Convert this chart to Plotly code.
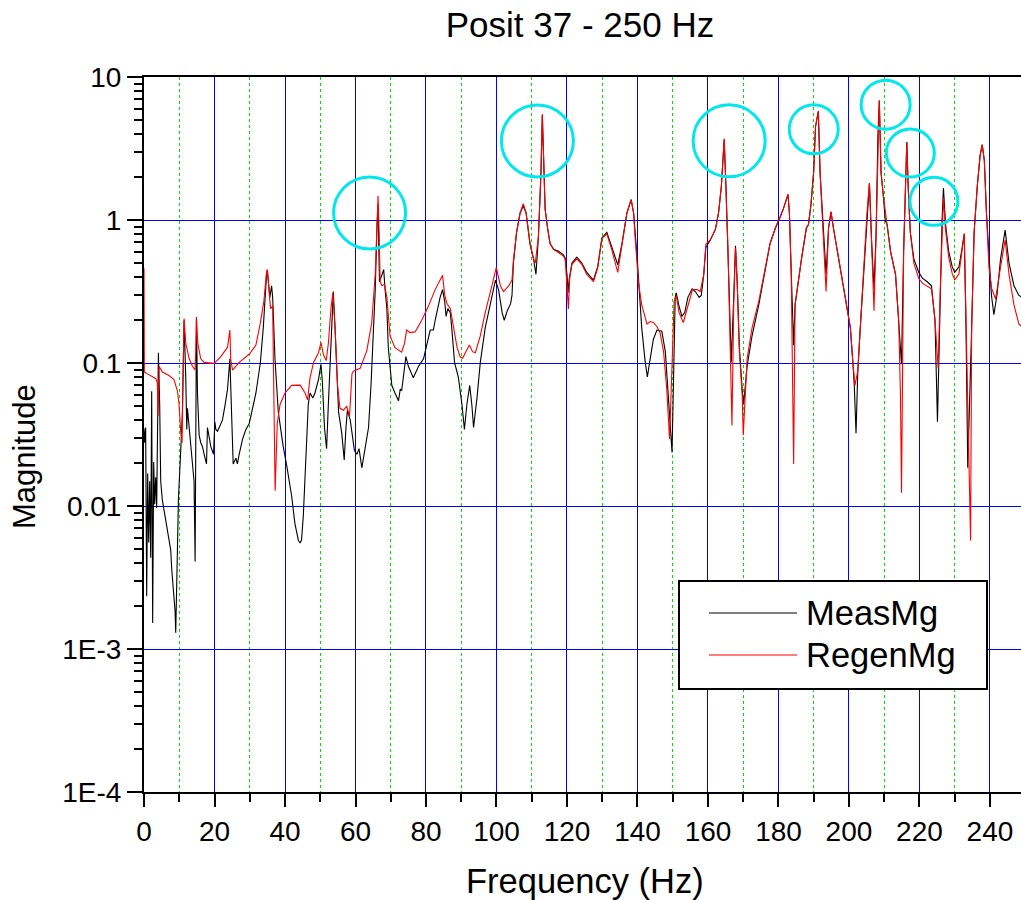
import math
import plotly.graph_objects as go

# ---------------- data ----------------
meas_freq = [0.0, 0.19, 0.47, 0.76, 1.04, 1.33, 1.61, 1.90, 2.18, 2.46, 2.75, 3.03, 3.32, 3.60, 3.89,
             4.08, 4.45, 4.74, 5.21, 5.69, 6.16, 6.64, 7.11, 7.58, 7.87, 8.25, 8.53, 8.82, 9.0, 9.19,
             9.48, 9.76, 10.14, 10.52, 10.9, 11.18, 11.37, 11.85, 12.13, 12.32, 12.8, 13.27, 13.74,
             14.2, 14.5, 14.69, 14.88, 15.17, 15.64, 16.11, 16.59, 17.06, 17.73, 18.0, 18.48, 18.96,
             19.72, 20.1, 20.38, 20.85, 21.33, 22.27, 23.03, 23.7, 24.36, 24.83, 25.3, 26.07, 26.5,
             27.0, 27.96, 28.9, 29.86, 30.33, 31.75, 33.0, 33.84, 34.8, 35.0, 35.7, 36.2, 36.5, 37.16,
             38.1, 39.5, 40.5, 41.9, 42.8, 43.8, 44.3, 44.7, 45.2, 46.0, 46.6, 47.1, 47.9, 48.5, 49.5,
             50.2, 50.6, 51.2, 51.8, 52.3, 52.99, 53.7, 54.2, 55.2, 56.1, 56.8, 57.3, 57.7, 58.5, 59.7,
             60.4, 61.0, 61.8, 62.7, 63.7, 64.4, 65.1, 65.6, 66.1, 66.4, 66.8, 67.5, 68.0, 68.4, 68.9,
             69.3, 70.3, 71.2, 72.2, 72.7, 73.1, 74.3, 75.0, 76.4, 77.9, 79.3, 80.7, 81.2, 82.1, 82.6,
             84.0, 84.7, 85.3, 85.7, 86.2, 86.9, 87.3, 88.1, 89.2, 90.2, 90.9, 91.6, 92.4, 93.0, 93.5,
             94.5, 95.4, 96.8, 98.2, 99.7, 100.6, 101.6, 102.2, 103.0, 104.0, 104.4, 104.8, 105.7,
             106.7, 107.6, 108.4, 109.5, 110.5, 111.2, 111.9, 112.6, 113.0, 113.4, 113.8, 114.5, 115.2,
             116.2, 117.6, 119.0, 119.5, 120.0, 120.3, 120.6, 121.4, 122.8, 124.2, 125.6, 127.5, 128.7,
             129.9, 131.3, 132.7, 134.4, 135.6, 137.0, 138.2, 138.9, 139.9, 140.3, 140.8, 141.2, 142.2,
             142.8, 143.6, 144.5, 145.5, 146.9, 147.9, 148.8, 149.3, 149.8, 150.3, 150.7, 151.0, 151.7,
             152.6, 153.4, 154.3, 155.5, 156.4, 157.5, 158.1, 158.8, 159.4, 160.7, 162.1, 163.0, 163.8,
             164.6, 165.1, 165.7, 166.3, 166.6, 167.3, 167.8, 168.3, 168.9, 169.7, 170.1, 171.1, 172.5,
             174.4, 175.5, 176.2, 177.6, 179.1, 180.5, 181.4, 182.7, 183.1, 183.6, 184.3, 184.7, 185.4,
             186.6, 187.9, 188.5, 189.2, 190.0, 190.5, 191.3, 191.8, 192.4, 193.0, 193.5, 194.2, 194.9,
             195.6, 197.1, 198.5, 199.4, 200.4, 201.1, 201.5, 202.0, 202.5, 203.2, 204.2, 205.1, 205.8,
             206.4, 207.1, 207.7, 208.2, 208.6, 209.1, 209.7, 210.3, 210.8, 211.8, 213.2, 214.1, 214.9,
             215.5, 216.0, 216.4, 216.8, 217.4, 218.4, 219.8, 220.9, 222.2, 223.4, 224.4, 225.1, 225.9,
             226.4, 226.8, 227.4, 228.3, 229.3, 230.0, 231.2, 232.1, 232.7, 233.2, 233.7, 234.8, 235.5,
             236.4, 237.2, 237.8, 238.4, 239.0, 239.7, 240.4, 241.1, 242.0, 243.0, 244.3, 245.4, 246.8,
             248.2, 249.0]
meas_mag = [0.035, 0.0277, 0.0354, 0.00234, 0.0169, 0.00556, 0.0149, 0.00435, 0.0635, 0.00152, 0.0203,
            0.0103, 0.0159, 0.0097, 0.0426, 0.118, 0.0513, 0.0149, 0.011, 0.0094, 0.0081, 0.0067, 0.00556,
            0.00492, 0.00361, 0.00266, 0.00207, 0.00183, 0.0013, 0.00319, 0.0049, 0.011, 0.0203, 0.0277,
            0.0453, 0.0893, 0.199, 0.0789, 0.0343, 0.0482, 0.0354, 0.0277, 0.0203, 0.0149, 0.00409, 0.0789,
            0.205, 0.0617, 0.0313, 0.0277, 0.026, 0.023, 0.0197, 0.0354, 0.0294, 0.026, 0.023, 0.0388,
            0.0343, 0.0333, 0.0354, 0.040, 0.0513, 0.0656, 0.107, 0.0453, 0.0197, 0.0216, 0.0197, 0.023,
            0.0294, 0.0343, 0.0377, 0.0426, 0.0617, 0.100, 0.176, 0.43, 0.44, 0.288, 0.347, 0.288, 0.107,
            0.0453, 0.026, 0.0191, 0.0117, 0.00757, 0.00574, 0.00551, 0.0058, 0.00857, 0.0277, 0.0513,
            0.0617, 0.057, 0.0617, 0.0766, 0.098, 0.074, 0.0354, 0.0252, 0.0513, 0.129, 0.316, 0.176,
            0.0453, 0.0323, 0.021, 0.0354, 0.0467, 0.040, 0.0244, 0.023, 0.0252, 0.0185, 0.026, 0.0354,
            0.0698, 0.155, 0.326, 0.9, 1.3, 0.369, 0.42, 0.45, 0.326, 0.239, 0.129, 0.0698, 0.0617,
            0.0544, 0.0656, 0.064, 0.1107, 0.0948, 0.0789, 0.0948, 0.107, 0.146, 0.17, 0.17, 0.199, 0.288,
            0.326, 0.27, 0.212, 0.24, 0.225, 0.176, 0.101, 0.0789, 0.0513, 0.0343, 0.0513, 0.0698, 0.0513,
            0.0354, 0.058, 0.101, 0.176, 0.255, 0.38, 0.326, 0.225, 0.199, 0.23, 0.26, 0.297, 0.50, 0.82,
            1.12, 1.25, 1.12, 0.684, 0.535, 0.417, 0.77, 2.07, 5.4, 2.07, 1.19, 0.875, 0.684, 0.624, 0.604,
            0.57, 0.54, 0.417, 0.31, 0.38, 0.50, 0.55, 0.50, 0.43, 0.38, 0.47, 0.75, 0.82, 0.64, 0.486,
            0.684, 1.12, 1.39, 1.12, 0.55, 0.39, 0.255, 0.176, 0.101, 0.08, 0.107, 0.146, 0.17, 0.167,
            0.12, 0.058, 0.0354, 0.0237, 0.095, 0.288, 0.31, 0.255, 0.212, 0.225, 0.288, 0.33, 0.316,
            0.288, 0.297, 0.417, 0.643, 0.728, 0.86, 1.12, 1.73, 3.66, 1.73, 0.604, 0.176, 0.101, 0.288,
            0.66, 0.36, 0.129, 0.0656, 0.0513, 0.095, 0.155, 0.255, 0.35, 0.443, 0.684, 0.875, 1.05, 1.2,
            1.51, 1.12, 0.443, 0.133, 0.255, 0.347, 0.55, 0.875, 0.93, 1.27, 2.2, 4.49, 5.74, 2.14, 1.12,
            0.58, 0.417, 0.875, 1.14, 0.875, 0.535, 0.347, 0.255, 0.176, 0.101, 0.07, 0.0323, 0.088,
            0.176, 0.443, 1.12, 1.81, 0.73, 0.33, 0.82, 3.85, 6.78, 2.14, 1.52, 0.99, 0.93, 0.6, 0.417,
            0.199, 0.098, 0.6, 2.07, 3.51, 1.7, 0.82, 0.535, 0.43, 0.39, 0.37, 0.347, 0.199, 0.0388, 0.33,
            0.99, 1.67, 0.93, 0.6, 0.47, 0.43, 0.47, 0.64, 0.80, 0.176, 0.0185, 0.176, 0.82, 1.73, 2.83,
            3.36, 2.6, 1.12, 0.535, 0.3, 0.218, 0.3, 0.535, 0.85, 0.5, 0.347, 0.297, 0.29]

regen_freq = [0.0, 0.1, 0.95, 2.37, 3.32, 3.8, 3.98, 4.27, 5.2, 7.1, 8.5, 9.5, 9.95, 10.4, 10.8, 11.0,
              11.37, 11.85, 12.8, 13.74, 14.5, 14.69, 14.88, 15.26, 16.1, 17.06, 19.9, 21.8, 23.7, 24.36,
              24.6, 25.1, 27.0, 29.9, 31.75, 33.0, 34.0, 34.8, 35.0, 35.9, 36.5, 37.2, 37.8, 38.6, 40.0,
              41.9, 44.3, 45.7, 46.4, 47.1, 48.1, 49.5, 50.2, 50.9, 51.7, 52.3, 53.1, 53.6, 54.2, 54.9,
              55.6, 56.6, 57.5, 58.3, 59.0, 59.4, 61.3, 63.2, 64.6, 65.6, 66.1, 66.4, 66.7, 67.0, 67.5,
              68.2, 68.9, 69.8, 71.2, 73.1, 73.9, 74.5, 75.5, 76.9, 78.8, 80.7, 82.6, 84.0, 84.7, 85.3,
              85.9, 86.9, 87.8, 88.8, 89.7, 90.4, 91.3, 92.3, 93.2, 94.0, 95.4, 96.8, 98.7, 99.95, 101.1,
              102.0, 103.5, 104.4, 104.8, 105.7, 106.7, 107.6, 108.4, 109.5, 110.5, 111.0, 111.9, 112.6,
              113.0, 113.4, 113.8, 114.5, 115.2, 116.2, 117.6, 119.0, 119.5, 120.0, 120.4, 120.8, 121.4,
              122.8, 124.2, 125.6, 127.5, 128.7, 129.9, 131.3, 132.7, 134.4, 135.6, 137.0, 138.2, 138.9,
              139.3, 140.3, 141.2, 142.7, 143.6, 144.5, 145.5, 146.4, 147.4, 148.3, 149.1, 149.8, 150.4,
              151.0, 151.8, 153.0, 154.5, 155.6, 156.9, 157.8, 158.8, 159.4, 160.7, 162.1, 163.0, 163.8,
              164.6, 165.1, 165.7, 166.3, 166.8, 167.3, 167.8, 168.3, 168.9, 169.7, 170.0, 171.1, 172.5,
              174.4, 176.2, 177.6, 179.1, 180.5, 181.4, 182.7, 183.1, 183.6, 184.3, 184.7, 185.4, 186.6,
              187.9, 188.5, 189.2, 190.0, 190.5, 191.3, 191.8, 192.4, 193.0, 193.5, 194.2, 194.9, 195.6,
              197.1, 198.5, 199.4, 200.4, 201.1, 201.7, 202.5, 203.2, 204.2, 205.1, 205.8, 206.4, 207.1,
              207.7, 208.2, 208.6, 209.1, 209.7, 210.8, 211.8, 213.2, 214.1, 214.6, 214.9, 215.5, 216.0,
              216.4, 216.8, 217.4, 218.4, 219.8, 220.9, 223.4, 224.4, 224.9, 225.3, 225.9, 226.4, 226.8,
              227.4, 228.3, 229.3, 230.0, 231.2, 232.1, 232.7, 233.2, 234.0, 234.5, 234.8, 235.5, 236.4,
              237.2, 237.8, 238.4, 239.0, 239.7, 240.5, 241.6, 243.0, 244.3, 245.4, 246.8, 248.2, 249.0]
regen_mag = [0.46, 0.0865, 0.0839, 0.0798, 0.078, 0.072, 0.0426, 0.0948, 0.0865, 0.0817, 0.0766, 0.0635,
             0.0513, 0.0333, 0.0277, 0.0617, 0.205, 0.1374, 0.1074, 0.0948, 0.0893, 0.1216, 0.21, 0.137,
             0.107, 0.101, 0.0994, 0.1107, 0.129, 0.17, 0.107, 0.0893, 0.101, 0.1156, 0.1334, 0.19, 0.27,
             0.44, 0.45, 0.24, 0.25, 0.0128, 0.0377, 0.0513, 0.0617, 0.0698, 0.070, 0.0617, 0.0552, 0.0789,
             0.101, 0.118, 0.139, 0.114, 0.104, 0.137, 0.25, 0.31, 0.176, 0.07, 0.0482, 0.0467, 0.05,
             0.0426, 0.084, 0.0877, 0.0917, 0.1216, 0.19, 0.417, 0.93, 1.48, 0.82, 0.37, 0.347, 0.355,
             0.288, 0.155, 0.128, 0.119, 0.137, 0.17, 0.163, 0.165, 0.199, 0.25, 0.326, 0.38, 0.41, 0.3,
             0.262, 0.24, 0.176, 0.129, 0.11, 0.108, 0.12, 0.1334, 0.12, 0.118, 0.155, 0.225, 0.347, 0.467,
             0.347, 0.316, 0.347, 0.38, 0.52, 0.82, 1.12, 1.3, 1.12, 0.684, 0.535, 0.5, 0.77, 2.07, 5.5,
             2.07, 1.19, 0.875, 0.684, 0.624, 0.59, 0.56, 0.53, 0.35, 0.239, 0.4, 0.49, 0.535, 0.49, 0.417,
             0.37, 0.46, 0.74, 0.80, 0.62, 0.43, 0.66, 1.12, 1.39, 1.12, 0.77, 0.36, 0.255, 0.187, 0.195,
             0.192, 0.18, 0.163, 0.12, 0.0656, 0.0294, 0.095, 0.27, 0.297, 0.225, 0.192, 0.262, 0.326,
             0.326, 0.316, 0.417, 0.68, 0.728, 0.86, 1.12, 1.73, 3.7, 1.73, 0.604, 0.129, 0.0365, 0.255,
             0.64, 0.36, 0.12, 0.06, 0.0313, 0.107, 0.176, 0.27, 0.46, 0.684, 0.875, 1.05, 1.2, 1.51, 1.12,
             0.443, 0.0197, 0.255, 0.347, 0.55, 0.875, 0.93, 1.27, 2.2, 4.49, 5.8, 2.14, 1.12, 0.58, 0.316,
             0.875, 1.14, 0.875, 0.535, 0.347, 0.255, 0.176, 0.101, 0.0698, 0.088, 0.176, 0.443, 1.12, 1.81,
             0.73, 0.232, 0.82, 3.85, 6.9, 2.14, 1.52, 0.93, 0.6, 0.417, 0.199, 0.06, 0.0124, 0.6, 2.07,
             3.51, 1.7, 0.82, 0.5, 0.39, 0.36, 0.33, 0.2, 0.12, 0.092, 0.33, 0.9, 1.43, 0.85, 0.55, 0.42,
             0.38, 0.42, 0.6, 0.80, 0.2, 0.03, 0.00574, 0.176, 0.82, 1.73, 2.83, 3.36, 2.6, 1.12, 0.47,
             0.33, 0.28, 0.47, 0.726, 0.417, 0.255, 0.187, 0.18]

# highlighted resonance peaks (cyan circles)
circled_freq = [64.0, 111.6, 166.0, 190.0, 210.4, 217.4, 224.1]
circled_mag = [1.12, 3.57, 3.58, 4.31, 6.4, 2.94, 1.35]

x_tick_vals = [0, 20, 40, 60, 80, 100, 120, 140, 160, 180, 200, 220, 240]
y_tick_vals = [1e-4, 1e-3, 1e-2, 1e-1, 1, 10]
y_tick_text = ["1E-4", "1E-3", "0.01", "0.1", "1", "10"]

series_names = ["MeasMg", "RegenMg"]
title_text = "Posit 37 - 250 Hz"

# ---------------- styling / layout ----------------
W, H = 1021, 900
L_PX, T_PX, B_PX = 144, 77, 792
R_PX = 1021
X_RANGE = [0, 248.8]
Y_RANGE_LOG = [-4, 1]
circle_radius_px = [36, 36, 36, 24.5, 24.5, 24, 24]
FONT = "Liberation Sans, Arial, Helvetica, sans-serif"

px_per_x = (R_PX - L_PX) / (X_RANGE[1] - X_RANGE[0])
px_per_decade = (B_PX - T_PX) / (Y_RANGE_LOG[1] - Y_RANGE_LOG[0])


def px_x(px):
    return (px - L_PX) / (R_PX - L_PX)


def px_y(py):
    return (B_PX - py) / (B_PX - T_PX)


fig = go.Figure()
fig.add_trace(go.Scatter(x=meas_freq, y=meas_mag, mode="lines", name=series_names[0],
                         line=dict(color="black", width=1.1), showlegend=False))
fig.add_trace(go.Scatter(x=regen_freq, y=regen_mag, mode="lines", name=series_names[1],
                         line=dict(color="red", width=1.1), showlegend=False))

shapes = []
for f, m, r in zip(circled_freq, circled_mag, circle_radius_px):
    dx = r / px_per_x
    dy = r / px_per_decade
    # shapes on a log axis take data values: scale the magnitude by the decade fraction
    shapes.append(dict(type="circle", xref="x", yref="y",
                       x0=f - dx, x1=f + dx, y0=m * 10 ** (-dy), y1=m * 10 ** dy,
                       line=dict(color="rgb(0,232,235)", width=3), layer="above"))

# custom legend box
shapes.append(dict(type="rect", xref="paper", yref="paper",
                   x0=px_x(679), x1=px_x(987), y0=px_y(689), y1=px_y(581),
                   line=dict(color="black", width=2), fillcolor="white", layer="above"))
legend_colors = ["black", "red"]
legend_rows = [613, 655]
annotations = []
for name, col, ry in zip(series_names, legend_colors, legend_rows):
    shapes.append(dict(type="line", xref="paper", yref="paper",
                       x0=px_x(709), x1=px_x(797), y0=px_y(ry), y1=px_y(ry),
                       line=dict(color=col, width=1), layer="above"))
    annotations.append(dict(text=name, xref="paper", yref="paper", x=px_x(804), y=px_y(ry),
                            xanchor="left", yanchor="middle", showarrow=False,
                            font=dict(size=34.5, color="black", family=FONT)))

annotations.append(dict(text="Frequency (Hz)", xref="paper", yref="paper", x=px_x(584.5), y=px_y(881),
                        xanchor="center", yanchor="middle", showarrow=False,
                        font=dict(size=34.5, color="black", family=FONT)))
annotations.append(dict(text="Magnitude", xref="paper", yref="paper", x=px_x(24), y=px_y(457),
                        xanchor="center", yanchor="middle", showarrow=False, textangle=-90,
                        font=dict(size=31, color="black", family=FONT)))

fig.update_layout(
    width=W, height=H,
    margin=dict(l=L_PX, r=W - R_PX, t=T_PX, b=H - B_PX, pad=0),
    paper_bgcolor="white", plot_bgcolor="white",
    font=dict(family=FONT, color="black"),
    title=dict(text=title_text, x=px_x(580), xref="paper", xanchor="center",
               y=1 - 25 / H, yref="container", yanchor="middle",
               font=dict(size=35, color="black", family=FONT)),
    shapes=shapes, annotations=annotations,
    showlegend=False,
)

fig.update_xaxes(
    range=X_RANGE, tickmode="array", tickvals=x_tick_vals,
    ticks="outside", ticklen=13, tickwidth=2, tickcolor="black",
    tickfont=dict(size=28, color="black", family=FONT),
    showline=True, linewidth=2, linecolor="black", mirror=True,
    showgrid=True, gridcolor="#0000FF", gridwidth=1, zeroline=False,
    minor=dict(dtick=10, tick0=0, ticks="outside", ticklen=8, tickwidth=2, tickcolor="black",
               showgrid=True, gridcolor="#00E000", griddash="dot", gridwidth=1),
)
fig.update_yaxes(
    type="log", range=Y_RANGE_LOG, tickmode="array", tickvals=y_tick_vals, ticktext=y_tick_text,
    ticks="outside", ticklen=15, tickwidth=2, tickcolor="black",
    tickfont=dict(size=28, color="black", family=FONT),
    showline=True, linewidth=2, linecolor="black", mirror=False,
    showgrid=True, gridcolor="#0000FF", gridwidth=1, zeroline=False,
    minor=dict(dtick="D1", ticks="outside", ticklen=8, tickwidth=2, tickcolor="black", showgrid=False),
)

fig.write_html("out.html")
